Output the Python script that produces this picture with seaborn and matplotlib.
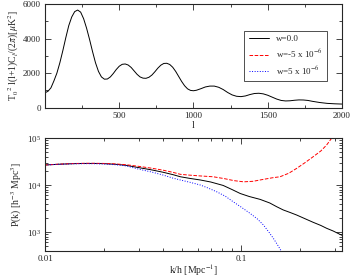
import matplotlib
matplotlib.use('Agg')
import matplotlib.pyplot as plt
import matplotlib.ticker as mticker
import seaborn as sns

# CMB temperature spectrum (top panel)
ell = [2, 20, 40, 60, 80, 100, 120, 140, 160, 180, 200, 220, 240, 260, 280, 300,
       320, 340, 360, 380, 400, 420, 440, 460, 480, 500, 520, 540, 560, 580, 600,
       620, 640, 660, 680, 700, 720, 740, 760, 780, 800, 820, 840, 860, 880, 900,
       920, 940, 960, 980, 1000, 1020, 1050, 1080, 1110, 1140, 1170, 1200, 1230,
       1260, 1290, 1320, 1350, 1380, 1410, 1440, 1470, 1500, 1530, 1560, 1590,
       1620, 1650, 1680, 1710, 1740, 1770, 1800, 1850, 1900, 1950, 2000]
cl_w0 = [870, 950, 1150, 1550, 2000, 2600, 3300, 4050, 4750, 5250, 5560, 5650,
         5530, 5150, 4600, 3950, 3250, 2600, 2100, 1780, 1650, 1660, 1780, 1980,
         2210, 2400, 2510, 2530, 2470, 2330, 2130, 1930, 1780, 1710, 1700, 1760,
         1890, 2080, 2290, 2460, 2560, 2570, 2500, 2340, 2100, 1810, 1520, 1270,
         1090, 1000, 980, 1010, 1100, 1200, 1250, 1250, 1180, 1050, 880, 740, 660,
         640, 680, 760, 820, 835, 800, 720, 610, 500, 420, 390, 400, 430, 450, 445,
         420, 370, 300, 250, 225, 210]

# matter power spectrum (bottom panel)
k_w0 = [0.010, 0.012, 0.014, 0.016, 0.018, 0.020, 0.023, 0.026, 0.030, 0.035,
        0.040, 0.045, 0.049, 0.055, 0.062, 0.070, 0.081, 0.090, 0.099, 0.110,
        0.125, 0.140, 0.152, 0.164, 0.178, 0.192, 0.210, 0.233, 0.255, 0.273,
        0.295, 0.319, 0.330]
pk_w0 = [26700, 27800, 28500, 28800, 28800, 28500, 27600, 26200, 23500, 21000,
         18700, 16600, 15000, 13800, 12800, 11600, 9800, 8000, 6600, 5700,
         4950, 4150, 3450, 2950, 2600, 2300, 1950, 1610, 1380, 1200,
         1050, 893, 840]

k_wneg = [0.010, 0.012, 0.014, 0.016, 0.018, 0.020, 0.023, 0.026, 0.030, 0.035,
          0.040, 0.045, 0.049, 0.055, 0.062, 0.072, 0.082, 0.092, 0.103, 0.115,
          0.130, 0.145, 0.158, 0.175, 0.192, 0.212, 0.233, 0.255, 0.273, 0.290]
pk_wneg = [26700, 27900, 28700, 29000, 29000, 28800, 28100, 27000, 25000, 22800,
           20700, 18600, 16900, 16200, 15600, 15000, 13700, 12400, 11700, 12000,
           13200, 14300, 15000, 17800, 22600, 30000, 40000, 53000, 71000, 100000]

k_wpos = [0.010, 0.012, 0.014, 0.016, 0.018, 0.020, 0.023, 0.026, 0.030, 0.035,
          0.040, 0.045, 0.049, 0.055, 0.062, 0.068, 0.075, 0.083, 0.091, 0.100,
          0.111, 0.121, 0.130, 0.138, 0.146, 0.154, 0.161, 0.165]
pk_wpos = [26700, 27700, 28300, 28500, 28400, 28000, 27000, 25500, 21800, 18900,
           16300, 14000, 12800, 11400, 10000, 8600, 7200, 5800, 4420, 3400,
           2500, 1900, 1410, 1020, 735, 520, 380, 320]

labels = ['w=0.0', r'w=-5 x 10$^{-6}$', r'w=5 x 10$^{-6}$']

sns.set_style('ticks')
plt.rcParams['font.family'] = ['Liberation Serif', 'DejaVu Serif']
plt.rcParams['mathtext.fontset'] = 'stix'
plt.rcParams['font.size'] = 6.5

fig = plt.figure(figsize=(3.53, 2.80), dpi=100)
ax1 = fig.add_axes([0.1275, 0.6154, 0.8413, 0.3703])
ax2 = fig.add_axes([0.1275, 0.1046, 0.8413, 0.4024])

# top panel (the three w models overlap here)
sns.lineplot(x=ell, y=cl_w0, ax=ax1, color='black', lw=0.7)
ax1.set_xlim(0, 2000)
ax1.set_ylim(0, 6000)
ax1.xaxis.set_major_locator(mticker.MultipleLocator(500))
ax1.xaxis.set_minor_locator(mticker.MultipleLocator(250))
ax1.yaxis.set_major_locator(mticker.MultipleLocator(2000))
ax1.yaxis.set_minor_locator(mticker.MultipleLocator(1000))
ax1.set_xticks([500, 1000, 1500, 2000])
ax1.set_xlabel('l', fontsize=7, labelpad=1)
ax1.set_ylabel(r'T$_0$$^2$ l(l+1)C$_l$/(2$\pi$)[$\mu$K$^2$]', fontsize=7, labelpad=1)

# bottom panel
sns.lineplot(x=k_w0, y=pk_w0, ax=ax2, color='black', lw=0.7, label=labels[0])
sns.lineplot(x=k_wneg, y=pk_wneg, ax=ax2, color='red', lw=0.7, linestyle='--', label=labels[1])
sns.lineplot(x=k_wpos, y=pk_wpos, ax=ax2, color='blue', lw=0.7, linestyle=':', label=labels[2])
ax2.set_xscale('log')
ax2.set_yscale('log')
ax2.set_xlim(0.01, 0.327)
ax2.set_ylim(400, 1e5)
ax2.set_xticks([0.01, 0.1])
ax2.xaxis.set_major_formatter(mticker.FixedFormatter(['0.01', '0.1']))
ax2.xaxis.set_minor_formatter(mticker.NullFormatter())
ax2.yaxis.set_minor_formatter(mticker.NullFormatter())
ax2.set_xlabel(r'k/h [Mpc$^{-1}$]', fontsize=7, labelpad=0)
ax2.set_ylabel(r'P(k) [h$^{-3}$ Mpc$^3$]', fontsize=7, labelpad=2)

# legend lives in the top panel, handles come from the bottom one
h, l = ax2.get_legend_handles_labels()
ax2.get_legend().remove()
leg = ax1.legend(h, l, loc='center', bbox_to_anchor=(0.81, 0.5), fontsize=6.5,
                 frameon=True, fancybox=False, edgecolor='black',
                 handlelength=2.2, borderpad=0.5, labelspacing=0.5)
leg.get_frame().set_linewidth(0.6)

for ax in (ax1, ax2):
    ax.tick_params(which='both', direction='in', top=True, right=True, width=0.6)
    ax.tick_params(which='major', length=4, pad=3)
    ax.tick_params(which='minor', length=2)
    for s in ax.spines.values():
        s.set_linewidth(0.8)
    ax.set_facecolor('white')

fig.savefig('out.png', dpi=100)
